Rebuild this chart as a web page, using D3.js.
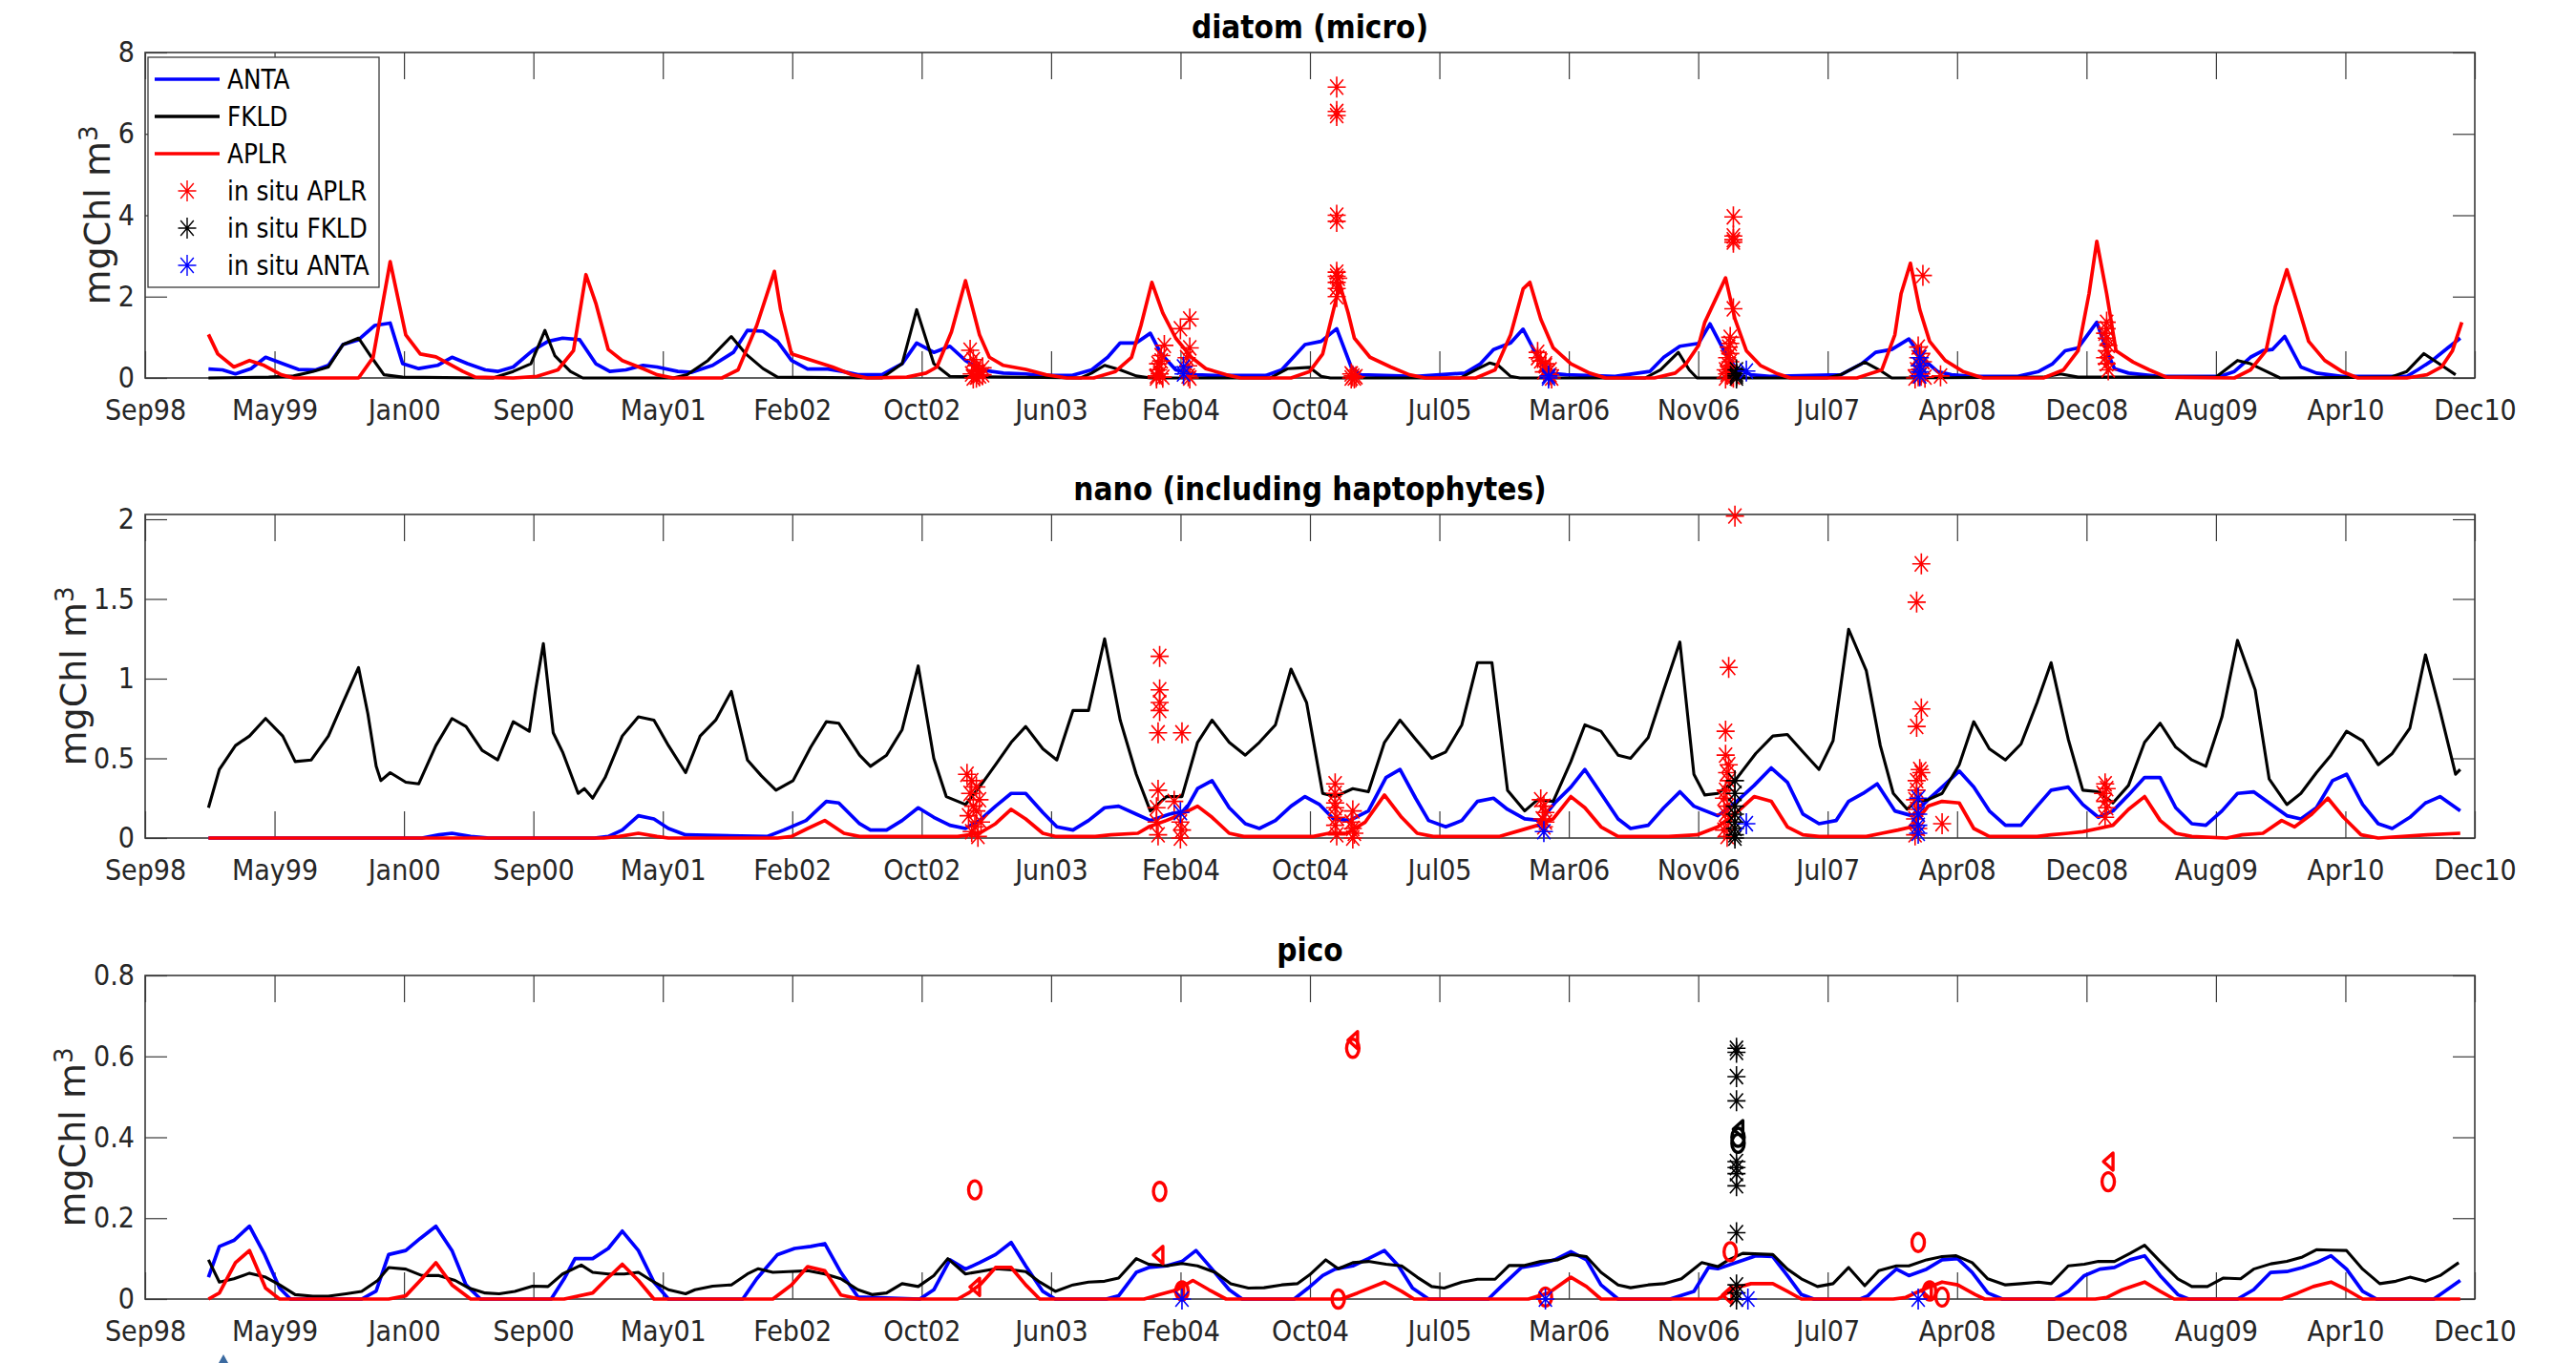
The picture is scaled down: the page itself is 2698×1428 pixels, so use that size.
<!DOCTYPE html>
<html>
<head>
<meta charset="utf-8">
<script src="https://cdn.jsdelivr.net/npm/d3@7"></script>
<style>
  html, body { margin: 0; padding: 0; background: #fff; }
  svg { display: block; }
  text { font-family: "DejaVu Sans Condensed", "DejaVu Sans", sans-serif; font-stretch: condensed; fill: #262626; }
  .ylab { font-family: "DejaVu Sans", sans-serif; font-stretch: normal; }
</style>
</head>
<body>
<svg id="chart" width="2698" height="1428"></svg>
<script>
// all series: [months since Jan 1999, mgChl m^-3]

// ---- diatom (micro)
const diatomANTA = [[0,0.22],[0.9,0.2],[1.7,0.1],[2.7,0.23],[3.6,0.51],[4.7,0.35],[5.7,0.21],[6.8,0.2],[7.6,0.31],[8.5,0.82],[9.5,0.94],[10.5,1.29],[11.5,1.35],[12.3,0.35],[13.3,0.23],[14.5,0.31],[15.4,0.51],[16.4,0.35],[17.5,0.2],[18.3,0.16],[19.3,0.27],[20.5,0.67],[21.5,0.9],[22.4,0.98],[23.5,0.94],[24.5,0.35],[25.4,0.16],[26.4,0.2],[27.5,0.31],[28.4,0.27],[29.7,0.16],[30.6,0.14],[31.9,0.31],[33.2,0.63],[34.1,1.17],[35.1,1.15],[36.0,0.9],[36.9,0.43],[37.9,0.22],[39.2,0.22],[40.1,0.16],[41.1,0.08],[42.6,0.08],[43.9,0.35],[44.8,0.86],[45.9,0.63],[46.9,0.78],[47.9,0.43],[48.9,0.2],[50.3,0.12],[51.7,0.1],[52.6,0.06],[54.6,0.06],[55.9,0.2],[56.9,0.51],[57.7,0.86],[58.7,0.86],[59.6,1.1],[60.3,0.59],[61.2,0.2],[62.5,0.08],[63.7,0.06],[66.9,0.06],[67.9,0.2],[69.4,0.82],[70.4,0.9],[71.4,1.21],[72.3,0.27],[72.9,0.08],[76.4,0.04],[79.5,0.12],[80.5,0.35],[81.3,0.7],[82.4,0.86],[83.2,1.2],[84.0,0.59],[84.8,0.12],[85.9,0.08],[89.0,0.04],[91.2,0.16],[92.1,0.51],[93.1,0.78],[94.3,0.85],[95.0,1.33],[95.8,0.74],[96.6,0.27],[97.6,0.08],[98.8,0.04],[103.3,0.08],[104.6,0.35],[105.5,0.63],[106.5,0.7],[107.6,0.96],[108.4,0.51],[109.4,0.16],[110.3,0.08],[111.6,0.04],[114.5,0.04],[115.8,0.16],[116.7,0.35],[117.5,0.67],[118.3,0.74],[119.5,1.37],[120.1,0.67],[120.6,0.23],[121.5,0.12],[123.4,0.04],[127.3,0.04],[128.2,0.16],[129.2,0.51],[130.0,0.67],[130.6,0.7],[131.4,1.02],[132.4,0.27],[133.4,0.12],[135.0,0.04],[139.1,0.04],[139.8,0.2],[140.7,0.43],[141.7,0.74],[142.5,0.98]];
const diatomFKLD = [[0,0],[3.8,0.02],[5.4,0.05],[6.6,0.16],[7.6,0.27],[8.5,0.82],[9.5,0.98],[10.3,0.51],[11.1,0.08],[12.3,0.02],[18.0,0],[19.3,0.16],[20.4,0.35],[21.3,1.17],[21.9,0.55],[22.9,0.16],[23.7,0],[29.4,0],[30.3,0.08],[31.6,0.43],[33.1,1.02],[34.0,0.59],[35.1,0.23],[36.0,0.02],[42.6,0],[43.9,0.35],[44.8,1.68],[45.9,0.35],[46.9,0.04],[55.2,0],[55.9,0.12],[56.7,0.31],[57.7,0.2],[58.7,0.05],[59.6,0],[67.2,0],[68.3,0.23],[69.7,0.26],[70.4,0.04],[71.0,0],[79.2,0],[80.2,0.2],[81.1,0.37],[81.6,0.31],[82.4,0.04],[83.0,0],[90.9,0],[91.9,0.2],[93.0,0.63],[93.7,0.2],[94.2,0],[102.4,0],[103.3,0.08],[104.8,0.39],[105.9,0.16],[106.5,0],[116.1,0.02],[117.2,0.1],[118.3,0.02],[127.0,0.02],[128.4,0.43],[129.2,0.35],[130.0,0.2],[131.1,0],[138.1,0.02],[139.1,0.16],[140.2,0.6],[141.3,0.31],[142.2,0.08]];
const diatomAPLR = [[0,1.07],[0.6,0.59],[1.6,0.27],[2.6,0.43],[3.5,0.31],[4.6,0.08],[5.4,0],[9.5,0],[10.4,0.5],[11.5,2.86],[12.5,1.06],[13.4,0.59],[14.4,0.52],[15.2,0.35],[16.1,0.16],[16.9,0.02],[19.3,0],[20.8,0.04],[22.1,0.2],[23.1,0.67],[23.9,2.54],[24.5,1.84],[25.3,0.7],[26.2,0.43],[27.5,0.23],[28.4,0.08],[29.4,0],[32.5,0],[33.5,0.2],[34.7,1.29],[35.8,2.62],[36.2,1.68],[36.9,0.59],[38.2,0.43],[39.5,0.27],[40.7,0.08],[41.7,0],[44.2,0.02],[45.4,0.12],[46.1,0.27],[47.0,1.13],[47.9,2.39],[48.8,1.06],[49.4,0.51],[50.3,0.31],[51.7,0.21],[53.0,0.08],[54.3,0],[56.0,0],[57.4,0.16],[58.4,0.51],[59.0,1.29],[59.7,2.35],[60.4,1.6],[61.2,0.98],[62.2,0.51],[63.1,0.23],[64.4,0.08],[65.3,0],[68.5,0],[69.7,0.16],[70.5,0.59],[71.2,1.68],[71.6,2.3],[72.1,1.6],[72.5,0.98],[73.5,0.51],[74.8,0.27],[76.0,0.08],[77.0,0],[80.2,0],[81.4,0.2],[82.4,1.06],[83.2,2.19],[83.6,2.35],[84.3,1.45],[85.1,0.74],[86.2,0.35],[87.4,0.12],[88.4,0],[91.5,0],[92.8,0.12],[93.5,0.35],[94.3,0.8],[94.7,1.37],[96.0,2.46],[96.6,1.45],[97.3,0.67],[98.2,0.31],[99.2,0.12],[100.1,0],[104.3,0],[105.9,0.2],[106.7,1.06],[107.1,2.07],[107.7,2.82],[108.3,1.68],[108.9,0.9],[109.9,0.43],[111.0,0.16],[112.3,0],[116.1,0],[117.4,0.2],[118.3,0.67],[119.0,2.07],[119.5,3.36],[120.1,2.07],[120.7,0.67],[121.8,0.39],[122.8,0.2],[123.9,0.02],[128.2,0],[129.2,0.2],[130.2,0.67],[130.8,1.76],[131.5,2.66],[132.1,1.92],[132.9,0.9],[133.9,0.43],[135.0,0.16],[136.0,0],[139.1,0],[140.4,0.08],[141.3,0.27],[142.0,0.67],[142.6,1.37]];
const diatomInsituAPLR = [[48.2,0.68],[48.4,0.45],[48.6,0.3],[48.5,0.2],[48.7,0.15],[48.3,0.1],[48.8,0.05],[48.6,0.02],[48.4,0],[49.0,0.08],[49.0,0.25],[60.0,0.05],[60.0,0],[60.1,0.35],[60.1,0.2],[60.3,0.55],[60.3,0.42],[60.2,0.1],[60.4,0.02],[60.5,0.8],[61.5,1.21],[62.1,1.45],[62.1,0.74],[61.9,0.5],[62.0,0.3],[62.1,0],[62.0,0.05],[71.4,7.15],[71.4,6.55],[71.4,6.45],[71.4,4.0],[71.4,3.85],[71.4,2.6],[71.4,2.5],[71.4,2.35],[71.4,2.2],[71.4,2.0],[71.5,2.45],[72.3,0.1],[72.4,0.05],[72.5,0],[72.3,0],[72.6,0.03],[84.1,0.63],[84.1,0.5],[84.3,0.42],[84.6,0.35],[84.6,0.3],[84.9,0.2],[84.9,0.08],[84.5,0.15],[85.0,0],[96.5,3.96],[96.5,3.49],[96.5,3.34],[96.5,3.4],[96.5,1.7],[96.3,1.0],[96.3,0.85],[96.2,0.76],[96.3,0.6],[96.1,0.5],[96.3,0.4],[96.2,0.3],[96.0,0.2],[96.3,0.15],[96.1,0.1],[96.4,0.05],[96.0,0],[96.5,0.02],[108.5,2.52],[108.2,0.76],[108.4,0.6],[108.2,0.5],[108.5,0.4],[108.3,0.3],[108.1,0.2],[108.4,0.1],[108.2,0.05],[108.0,0],[108.6,0.02],[109.6,0.05],[120.1,1.37],[120.1,1.21],[120.0,1.1],[120.1,0.98],[120.2,0.8],[120.1,0.67],[120.0,0.5],[120.1,0.35],[120.2,0.2]];
const diatomInsituFKLD = [[96.7,0.2],[96.7,0.1],[96.7,0.05],[96.7,0]];
const diatomInsituANTA = [[61.7,0.27],[61.7,0.1],[84.8,0.05],[84.8,0],[97.3,0.17],[108.3,0.5],[108.3,0.3],[108.3,0.15],[108.3,0.05]];

// ---- nano (including haptophytes)
const nanoANTA = [[0,0],[13.5,0],[14.6,0.02],[15.4,0.03],[16.6,0.01],[17.7,0],[24.4,0],[25.3,0.01],[26.2,0.05],[27.2,0.14],[28.2,0.12],[29.1,0.06],[30.2,0.02],[35.4,0.01],[36.4,0.05],[37.8,0.11],[39.1,0.23],[39.9,0.22],[41.2,0.09],[41.9,0.05],[42.9,0.05],[43.9,0.11],[44.9,0.19],[45.9,0.13],[46.9,0.08],[47.9,0.06],[48.8,0.11],[49.8,0.2],[50.8,0.28],[51.7,0.28],[52.8,0.16],[53.7,0.07],[54.7,0.05],[55.7,0.11],[56.7,0.19],[57.6,0.2],[58.7,0.15],[59.6,0.11],[60.8,0.15],[61.8,0.17],[62.6,0.31],[63.5,0.36],[64.6,0.19],[65.6,0.09],[66.5,0.06],[67.5,0.11],[68.5,0.2],[69.4,0.26],[70.3,0.21],[71.2,0.12],[72.2,0.11],[73.4,0.17],[74.5,0.38],[75.4,0.43],[76.4,0.25],[77.2,0.11],[78.3,0.07],[79.3,0.11],[80.3,0.23],[81.3,0.25],[82.2,0.18],[83.3,0.12],[84.3,0.11],[85.2,0.22],[86.2,0.32],[87.1,0.43],[88.1,0.28],[89.2,0.12],[90.0,0.06],[91.1,0.08],[92.1,0.19],[93.1,0.29],[94.0,0.2],[95.5,0.14],[96.6,0.22],[97.8,0.33],[98.9,0.44],[99.9,0.35],[100.9,0.15],[101.9,0.09],[103.0,0.11],[103.8,0.23],[104.7,0.28],[105.6,0.34],[106.7,0.17],[107.8,0.14],[108.8,0.24],[109.7,0.32],[110.8,0.42],[111.7,0.32],[112.7,0.17],[113.7,0.08],[114.7,0.08],[115.7,0.2],[116.6,0.3],[117.7,0.32],[118.6,0.21],[119.6,0.13],[120.5,0.17],[121.5,0.27],[122.5,0.38],[123.5,0.38],[124.5,0.19],[125.5,0.09],[126.4,0.08],[127.4,0.17],[128.4,0.28],[129.4,0.29],[130.4,0.22],[131.5,0.14],[132.4,0.12],[133.4,0.19],[134.4,0.36],[135.3,0.4],[136.3,0.21],[137.3,0.09],[138.2,0.06],[139.3,0.13],[140.3,0.22],[141.2,0.26],[142.5,0.17]];
const nanoFKLD = [[0,0.19],[0.7,0.43],[1.7,0.58],[2.6,0.64],[3.6,0.75],[4.7,0.64],[5.5,0.48],[6.5,0.49],[7.6,0.64],[8.5,0.85],[9.5,1.07],[10.1,0.78],[10.6,0.45],[10.9,0.36],[11.5,0.41],[12.5,0.35],[13.3,0.34],[14.4,0.58],[15.4,0.75],[16.3,0.7],[17.3,0.55],[18.3,0.49],[19.3,0.73],[20.3,0.67],[20.7,0.93],[21.2,1.22],[21.8,0.66],[22.4,0.54],[23.4,0.28],[23.8,0.31],[24.3,0.25],[25.1,0.38],[26.2,0.64],[27.2,0.76],[28.2,0.74],[29.1,0.58],[30.2,0.41],[31.1,0.64],[32.1,0.74],[33.1,0.92],[34.1,0.49],[35.0,0.39],[35.9,0.3],[37.0,0.36],[38.1,0.57],[39.1,0.73],[39.9,0.72],[41.2,0.52],[41.9,0.45],[42.9,0.52],[43.9,0.68],[44.9,1.08],[45.9,0.5],[46.7,0.26],[47.9,0.21],[48.8,0.32],[49.8,0.46],[50.8,0.6],[51.7,0.7],[52.8,0.56],[53.7,0.49],[54.7,0.8],[55.7,0.8],[56.7,1.25],[57.7,0.74],[58.7,0.4],[59.6,0.17],[60.6,0.26],[61.6,0.26],[62.6,0.6],[63.5,0.74],[64.6,0.6],[65.6,0.52],[66.5,0.6],[67.5,0.71],[68.5,1.06],[69.5,0.85],[70.5,0.28],[71.3,0.26],[72.4,0.31],[73.4,0.29],[74.4,0.6],[75.4,0.74],[76.4,0.62],[77.4,0.5],[78.3,0.54],[79.3,0.71],[80.3,1.1],[81.2,1.1],[82.2,0.3],[83.3,0.17],[84.1,0.24],[85.1,0.23],[86.2,0.48],[87.1,0.71],[88.1,0.67],[89.2,0.52],[90.0,0.5],[91.1,0.63],[92.1,0.93],[93.1,1.23],[94.0,0.4],[94.7,0.27],[95.5,0.28],[96.6,0.36],[97.9,0.53],[99.0,0.64],[99.9,0.65],[100.9,0.54],[101.9,0.43],[102.8,0.61],[103.8,1.31],[104.9,1.05],[105.8,0.58],[106.6,0.28],[107.5,0.18],[108.0,0.23],[108.8,0.24],[109.7,0.28],[110.8,0.46],[111.7,0.73],[112.7,0.56],[113.7,0.49],[114.7,0.59],[115.7,0.85],[116.6,1.1],[117.7,0.62],[118.6,0.3],[119.6,0.29],[120.5,0.22],[121.5,0.33],[122.5,0.6],[123.5,0.72],[124.5,0.57],[125.5,0.49],[126.4,0.45],[127.4,0.76],[128.4,1.24],[129.5,0.93],[130.4,0.37],[131.5,0.21],[132.4,0.28],[133.4,0.41],[134.3,0.52],[135.3,0.67],[136.3,0.61],[137.3,0.46],[138.2,0.53],[139.3,0.69],[140.3,1.15],[141.2,0.8],[142.2,0.4],[142.5,0.43]];
const nanoAPLR = [[0,0],[25,0],[26,0.01],[27.2,0.03],[28.4,0.01],[29.1,0],[36,0],[36.9,0.01],[37.9,0.06],[39.0,0.11],[40.2,0.03],[41.2,0.01],[45.7,0.01],[47.4,0.01],[48.8,0.03],[49.8,0.09],[50.8,0.18],[51.7,0.12],[52.8,0.03],[53.6,0.01],[56.1,0.01],[57.1,0.02],[58.8,0.03],[59.5,0.07],[60.6,0.11],[61.6,0.15],[62.6,0.2],[63.5,0.13],[64.6,0.03],[65.5,0.01],[69.9,0.01],[70.9,0.03],[72.0,0.03],[73.2,0.1],[74.4,0.27],[75.5,0.13],[76.5,0.03],[77.5,0.01],[81.7,0.01],[83.1,0.05],[84.1,0.08],[85.1,0.12],[86.2,0.26],[87.1,0.19],[88.1,0.07],[89.2,0.01],[92.4,0.01],[94.2,0.02],[95.5,0.07],[96.6,0.15],[97.8,0.26],[98.9,0.23],[99.9,0.07],[100.9,0.02],[101.9,0.01],[104.9,0.01],[105.9,0.03],[106.9,0.05],[107.8,0.07],[108.8,0.2],[109.7,0.23],[110.8,0.22],[111.7,0.06],[112.7,0.01],[115.7,0.01],[116.6,0.02],[117.7,0.03],[118.6,0.04],[119.6,0.06],[120.5,0.08],[121.5,0.18],[122.5,0.26],[123.5,0.11],[124.5,0.03],[125.5,0.01],[127.7,0],[128.7,0.02],[130.0,0.03],[131.2,0.11],[132.0,0.07],[133.1,0.15],[134.1,0.25],[135.1,0.13],[136.2,0.02],[137.3,0],[140.4,0.02],[142.5,0.03]];
const nanoInsituAPLR = [[48.0,0.4],[48.3,0.36],[48.6,0.32],[48.2,0.28],[48.8,0.24],[48.4,0.2],[48.6,0.17],[48.1,0.14],[48.9,0.1],[48.5,0.07],[48.3,0.04],[48.7,0.01],[60.2,1.14],[60.2,0.93],[60.2,0.85],[60.2,0.8],[60.1,0.66],[61.6,0.66],[60.1,0.3],[60.0,0.19],[60.0,0.1],[60.1,0.02],[61.1,0.23],[61.5,0.1],[61.6,0.05],[61.5,0],[71.3,0.34],[71.3,0.28],[71.3,0.22],[71.3,0.19],[71.4,0.13],[71.3,0.08],[71.4,0.02],[72.4,0.17],[72.3,0.1],[72.4,0.06],[72.5,0.03],[72.4,0],[84.3,0.24],[84.5,0.2],[84.6,0.16],[84.4,0.12],[84.6,0.1],[84.5,0.07],[96.6,2.02],[96.2,1.07],[96.0,0.67],[96.0,0.52],[96.2,0.46],[96.1,0.41],[96.2,0.36],[96.0,0.3],[95.9,0.25],[96.1,0.2],[96.0,0.15],[96.2,0.1],[95.9,0.05],[96.1,0.01],[108.4,1.72],[108.1,1.48],[108.4,0.81],[108.1,0.7],[108.3,0.43],[108.4,0.41],[108.1,0.36],[108.1,0.3],[108.0,0.24],[108.1,0.18],[108.0,0.12],[108.2,0.06],[108.0,0.02],[109.7,0.09],[120.0,0.34],[120.1,0.31],[119.9,0.28],[120.0,0.23],[120.1,0.19],[120.0,0.13]];
const nanoInsituFKLD = [[96.6,0.36],[96.6,0.28],[96.6,0.2],[96.6,0.15],[96.6,0.1],[96.6,0.06],[96.6,0.02],[96.6,0]];
const nanoInsituANTA = [[61.5,0.16],[84.5,0.04],[97.3,0.09],[108.2,0.25],[108.2,0.15],[108.2,0.08],[108.2,0.03]];

// ---- pico
const picoANTA = [[0,0.054],[0.7,0.13],[1.6,0.145],[2.6,0.18],[3.5,0.113],[4.5,0.027],[5.2,0],[9.7,0],[10.6,0.02],[11.4,0.11],[12.5,0.12],[13.4,0.15],[14.4,0.18],[15.4,0.12],[16.3,0.035],[17.2,0],[21.7,0],[22.5,0.05],[23.2,0.1],[24.3,0.1],[25.3,0.125],[26.2,0.168],[27.2,0.12],[28.2,0.042],[29.1,0],[33.8,0],[34.7,0.05],[36.0,0.11],[37.1,0.125],[38.1,0.13],[39.0,0.137],[40.0,0.066],[41.1,0.005],[45.0,0],[45.9,0.023],[46.9,0.097],[47.9,0.074],[48.8,0.09],[49.8,0.11],[50.8,0.14],[51.7,0.082],[52.8,0.019],[53.6,0],[56.8,0],[57.6,0.008],[58.7,0.066],[59.5,0.078],[60.6,0.082],[61.6,0.093],[62.5,0.12],[63.5,0.074],[64.6,0.023],[65.4,0],[68.7,0],[69.6,0.027],[70.5,0.058],[71.3,0.074],[72.4,0.082],[73.4,0.1],[74.4,0.12],[75.3,0.082],[76.2,0.027],[77.2,0],[81.0,0],[81.9,0.035],[83.1,0.078],[84.2,0.086],[85.2,0.097],[86.2,0.117],[87.2,0.097],[88.1,0.035],[89.2,0],[92.5,0],[94.0,0.019],[94.9,0.078],[95.5,0.075],[96.9,0.093],[97.9,0.107],[99.0,0.105],[99.9,0.058],[100.8,0.011],[101.6,0],[104.5,0],[105.0,0.008],[105.9,0.042],[106.8,0.074],[107.6,0.058],[108.7,0.074],[109.7,0.097],[110.7,0.1],[111.6,0.066],[112.6,0.015],[113.5,0],[116.8,0],[117.7,0.019],[118.7,0.058],[119.7,0.074],[120.6,0.078],[121.6,0.097],[122.5,0.107],[123.5,0.058],[124.6,0.011],[125.3,0],[128.4,0],[129.4,0.023],[130.5,0.066],[131.5,0.068],[132.5,0.078],[133.4,0.09],[134.3,0.107],[135.3,0.074],[136.3,0.019],[137.2,0],[140.8,0],[141.5,0.019],[142.5,0.046]];
const picoFKLD = [[0,0.097],[0.7,0.042],[1.6,0.05],[2.6,0.064],[3.6,0.054],[4.5,0.035],[5.5,0.011],[6.6,0.007],[7.6,0.007],[8.7,0.013],[9.7,0.019],[10.7,0.046],[11.4,0.078],[12.5,0.074],[13.5,0.058],[14.6,0.058],[15.6,0.046],[16.5,0.027],[17.5,0.015],[18.4,0.013],[19.4,0.019],[20.5,0.032],[21.5,0.031],[22.4,0.062],[23.6,0.084],[24.3,0.066],[25.3,0.062],[26.3,0.062],[27.2,0.066],[28.2,0.042],[29.1,0.023],[30.2,0.013],[30.8,0.023],[31.9,0.032],[33.1,0.035],[34.1,0.062],[34.8,0.075],[35.7,0.066],[36.7,0.068],[37.9,0.07],[39.0,0.062],[40.0,0.05],[41.1,0.023],[42.0,0.011],[42.9,0.015],[43.9,0.038],[44.9,0.031],[45.9,0.058],[46.8,0.1],[47.9,0.062],[48.8,0.068],[49.8,0.075],[50.9,0.072],[51.7,0.068],[52.6,0.042],[53.6,0.019],[54.7,0.035],[55.7,0.042],[56.7,0.044],[57.6,0.052],[58.7,0.1],[59.5,0.086],[60.6,0.082],[61.6,0.088],[62.6,0.082],[63.7,0.066],[64.7,0.038],[65.8,0.027],[66.8,0.028],[67.9,0.035],[68.9,0.038],[69.7,0.06],[70.7,0.097],[71.5,0.075],[72.4,0.09],[73.4,0.093],[74.5,0.086],[75.5,0.082],[76.5,0.054],[77.4,0.031],[78.2,0.027],[79.3,0.042],[80.3,0.049],[81.4,0.049],[82.3,0.083],[83.3,0.083],[84.3,0.093],[85.4,0.097],[86.2,0.11],[87.2,0.105],[88.1,0.066],[89.2,0.035],[90.0,0.028],[91.1,0.035],[92.1,0.038],[93.2,0.05],[94.5,0.09],[95.5,0.08],[96.2,0.097],[97.1,0.113],[99.0,0.11],[99.9,0.074],[100.8,0.05],[101.8,0.031],[102.8,0.038],[103.8,0.078],[104.8,0.033],[105.7,0.07],[106.8,0.082],[107.6,0.082],[108.7,0.097],[109.7,0.105],[110.6,0.107],[111.6,0.09],[112.6,0.05],[113.7,0.035],[114.7,0.038],[115.8,0.042],[116.6,0.038],[117.7,0.082],[118.7,0.086],[119.6,0.093],[120.6,0.093],[121.6,0.113],[122.5,0.133],[123.5,0.093],[124.6,0.05],[125.5,0.031],[126.5,0.031],[127.5,0.052],[128.6,0.05],[129.4,0.074],[130.5,0.087],[131.5,0.093],[132.5,0.104],[133.4,0.122],[134.3,0.121],[135.3,0.12],[136.3,0.074],[137.4,0.038],[138.4,0.044],[139.3,0.054],[140.3,0.044],[141.2,0.058],[142.4,0.09]];
const picoAPLR = [[0,0],[0.7,0.015],[1.7,0.09],[2.6,0.12],[3.6,0.027],[4.5,0],[11.4,0],[12.5,0.008],[13.5,0.05],[14.4,0.09],[15.4,0.035],[16.6,0],[22.5,0],[24.3,0.015],[25.1,0.046],[26.2,0.086],[27.2,0.046],[28.2,0],[35.7,0],[36.9,0.035],[37.9,0.08],[39.0,0.07],[40.0,0.01],[41.2,0],[47.4,0],[48.1,0.015],[48.9,0.038],[49.8,0.078],[50.8,0.078],[51.7,0.035],[52.6,0],[59.2,0],[60.2,0.011],[61.3,0.023],[62.3,0.046],[63.3,0.023],[64.4,0],[71.7,0],[72.7,0.015],[74.4,0.042],[75.5,0.019],[76.3,0],[83.5,0],[84.8,0.015],[86.2,0.054],[87.2,0.031],[88.1,0],[95.5,0],[96.6,0.027],[97.6,0.038],[99.0,0.038],[99.9,0.019],[100.8,0],[106.6,0],[107.4,0.004],[108.7,0.027],[109.7,0.042],[110.7,0.035],[111.8,0.011],[112.4,0],[119.4,0],[120.1,0.004],[121.1,0.023],[122.5,0.042],[123.5,0.019],[124.4,0],[131.2,0],[132.2,0.015],[133.2,0.031],[134.3,0.042],[135.3,0.023],[136.3,0],[142.5,0]];
const picoInsituAPLRcircle = [[48.5,0.27],[60.2,0.266],[61.6,0.02],[72.4,0.62],[71.5,0],[84.6,0.005],[96.3,0.117],[108.2,0.14],[108.9,0.02],[109.7,0.005],[120.2,0.29]];
const picoInsituAPLRtriangle = [[48.5,0.03],[60.1,0.109],[61.4,0.02],[72.4,0.64],[96.1,0.01],[108.7,0.02],[120.2,0.34]];
const picoInsituFKLD = [[96.7,0.62],[96.7,0.61],[96.7,0.55],[96.7,0.49],[96.7,0.34],[96.7,0.325],[96.7,0.31],[96.7,0.28],[96.7,0.164],[96.7,0.035],[96.7,0.015],[96.7,0]];
const picoInsituFKLDcircle = [[96.8,0.4],[96.8,0.385]];
const picoInsituFKLDtriangle = [[96.8,0.42]];
const picoInsituANTA = [[61.6,0],[84.6,0],[97.4,0],[108.2,0]];

const xTickLabels = ['Sep98','May99','Jan00','Sep00','May01','Feb02','Oct02','Jun03','Feb04','Oct04','Jul05','Mar06','Nov06','Jul07','Apr08','Dec08','Aug09','Apr10','Dec10'];
const legendLabels = ['ANTA', 'FKLD', 'APLR', 'in situ APLR', 'in situ FKLD', 'in situ ANTA'];

const BLUE = '#0000ff', BLACK = '#000000', RED = '#ff0000';

const toDate = m => new Date(1999, 0, 1 + Math.round(m * 30.4375));

const svg = d3.select('#chart');
const left = 152, right = 2592;

const x = d3.scaleTime()
  .domain([toDate(-4), toDate(143.4)])
  .range([left, right]);
const [d0, d1] = x.domain();
const tickDates = d3.range(xTickLabels.length).map(k => new Date(+d0 + k * (d1 - d0) / (xTickLabels.length - 1)));

const panels = [
  { title: 'diatom (micro)', top: 55, bottom: 396, yMax: 8, yTicks: [0, 2, 4, 6, 8], labelX: 115,
    lines: [[diatomANTA, BLUE], [diatomFKLD, BLACK], [diatomAPLR, RED]],
    stars: [[diatomInsituAPLR, RED], [diatomInsituFKLD, BLACK], [diatomInsituANTA, BLUE]],
    circles: [], triangles: [], legend: true },
  { title: 'nano (including haptophytes)', top: 539, bottom: 878, yMax: 2.03, yTicks: [0, 0.5, 1, 1.5, 2], labelX: 90,
    lines: [[nanoANTA, BLUE], [nanoFKLD, BLACK], [nanoAPLR, RED]],
    stars: [[nanoInsituAPLR, RED], [nanoInsituFKLD, BLACK], [nanoInsituANTA, BLUE]],
    circles: [], triangles: [] },
  { title: 'pico', top: 1022, bottom: 1361, yMax: 0.8, yTicks: [0, 0.2, 0.4, 0.6, 0.8], labelX: 89,
    lines: [[picoANTA, BLUE], [picoFKLD, BLACK], [picoAPLR, RED]],
    stars: [[picoInsituFKLD, BLACK], [picoInsituANTA, BLUE]],
    circles: [[picoInsituAPLRcircle, RED], [picoInsituFKLDcircle, BLACK]],
    triangles: [[picoInsituAPLRtriangle, RED], [picoInsituFKLDtriangle, BLACK]] }
];

// matlab-like '*' marker
function starPath(rx, ry) {
  const a = rx * 0.72, b = ry * 0.72;
  return `M0,${-ry}V${ry}M${-rx},0H${rx}M${-a},${-b}L${a},${b}M${-a},${b}L${a},${-b}`;
}
const triPath = 'M5,-9L-5,0L5,9Z';

panels.forEach(p => {
  const y = d3.scaleLinear().domain([0, p.yMax]).range([p.bottom, p.top]);
  const g = svg.append('g');

  // ticks (inward, all four sides)
  const axisStyle = sel => {
    sel.attr('color', '#3a3a3a').attr('font-size', 30).attr('font-family', null);
    sel.select('.domain').remove();
    sel.selectAll('.tick line').attr('stroke-width', 1.2);
  };
  g.append('g').attr('transform', `translate(0,${p.bottom})`)
    .call(d3.axisBottom(x).tickValues(tickDates).tickSize(-28).tickPadding(23)
      .tickFormat((d, i) => xTickLabels[i]))
    .call(axisStyle);
  g.append('g').attr('transform', `translate(0,${p.top})`)
    .call(d3.axisTop(x).tickValues(tickDates).tickSize(-28).tickFormat(''))
    .call(axisStyle);
  g.append('g').attr('transform', `translate(${left},0)`)
    .call(d3.axisLeft(y).tickValues(p.yTicks).tickSize(-23).tickPadding(11).tickFormat(d => String(d)))
    .call(axisStyle);
  g.append('g').attr('transform', `translate(${right},0)`)
    .call(d3.axisRight(y).tickValues(p.yTicks).tickSize(-23).tickFormat(''))
    .call(axisStyle);

  g.append('rect')
    .attr('x', left).attr('y', p.top)
    .attr('width', right - left).attr('height', p.bottom - p.top)
    .attr('fill', 'none').attr('stroke', '#3a3a3a').attr('stroke-width', 1.6);

  const line = d3.line().x(d => x(toDate(d[0]))).y(d => y(d[1]));
  p.lines.forEach(([data, color]) => {
    g.append('path').datum(data)
      .attr('d', line)
      .attr('fill', 'none')
      .attr('stroke', color)
      .attr('stroke-width', color === BLACK ? 3.1 : 3.7)
      .attr('stroke-linejoin', 'round');
  });

  p.circles.forEach(([data, color]) => {
    g.append('g').selectAll('ellipse').data(data).join('ellipse')
      .attr('cx', d => x(toDate(d[0]))).attr('cy', d => y(d[1]))
      .attr('rx', 6.5).attr('ry', 9.5)
      .attr('fill', 'none').attr('stroke', color).attr('stroke-width', 3.4);
  });
  p.triangles.forEach(([data, color]) => {
    g.append('g').selectAll('path').data(data).join('path')
      .attr('transform', d => `translate(${x(toDate(d[0]))},${y(d[1])})`)
      .attr('d', triPath)
      .attr('fill', 'none').attr('stroke', color).attr('stroke-width', 3.4).attr('stroke-linejoin', 'round');
  });
  p.stars.forEach(([data, color]) => {
    g.append('g').selectAll('path').data(data).join('path')
      .attr('transform', d => `translate(${x(toDate(d[0]))},${y(d[1])})`)
      .attr('d', starPath(9.5, 11))
      .attr('fill', 'none').attr('stroke', color).attr('stroke-width', 1.6);
  });

  // title
  g.append('text')
    .attr('x', (left + right) / 2).attr('y', p.top - 15)
    .attr('text-anchor', 'middle')
    .attr('font-size', 33).attr('font-weight', 'bold')
    .style('fill', '#000')
    .text(p.title);

  // y label
  const yl = g.append('text').attr('class', 'ylab')
    .attr('transform', `translate(${p.labelX},${(p.top + p.bottom) / 2}) rotate(-90)`)
    .attr('text-anchor', 'middle')
    .attr('font-size', 38);
  yl.append('tspan').text('mgChl m');
  yl.append('tspan').attr('dy', '-0.5em').attr('font-size', 26).text('3');

  if (p.legend) {
    const lg = svg.append('g').attr('transform', 'translate(155,60)');
    lg.append('rect').attr('width', 242).attr('height', 241)
      .attr('fill', '#fff').attr('stroke', '#3a3a3a').attr('stroke-width', 1.3);
    const entryColors = [BLUE, BLACK, RED, RED, BLACK, BLUE];
    legendLabels.forEach((lab, i) => {
      const ey = 23 + i * 39;
      if (i < 3) {
        lg.append('line').attr('x1', 7).attr('x2', 75).attr('y1', ey).attr('y2', ey)
          .attr('stroke', entryColors[i]).attr('stroke-width', 3.6);
      } else {
        lg.append('path').attr('transform', `translate(41,${ey})`)
          .attr('d', starPath(9.5, 11))
          .attr('fill', 'none').attr('stroke', entryColors[i]).attr('stroke-width', 1.4);
      }
      lg.append('text').attr('x', 83).attr('y', ey).attr('dy', '0.36em')
        .attr('font-size', 27.5).style('fill', '#000').text(lab);
    });
  }
});

// stray glyph at the lower-left edge of the source image
svg.append('path').attr('d', 'M234,1419L229,1428L239,1428Z').attr('fill', '#3b6aa0');
</script>
</body>
</html>
